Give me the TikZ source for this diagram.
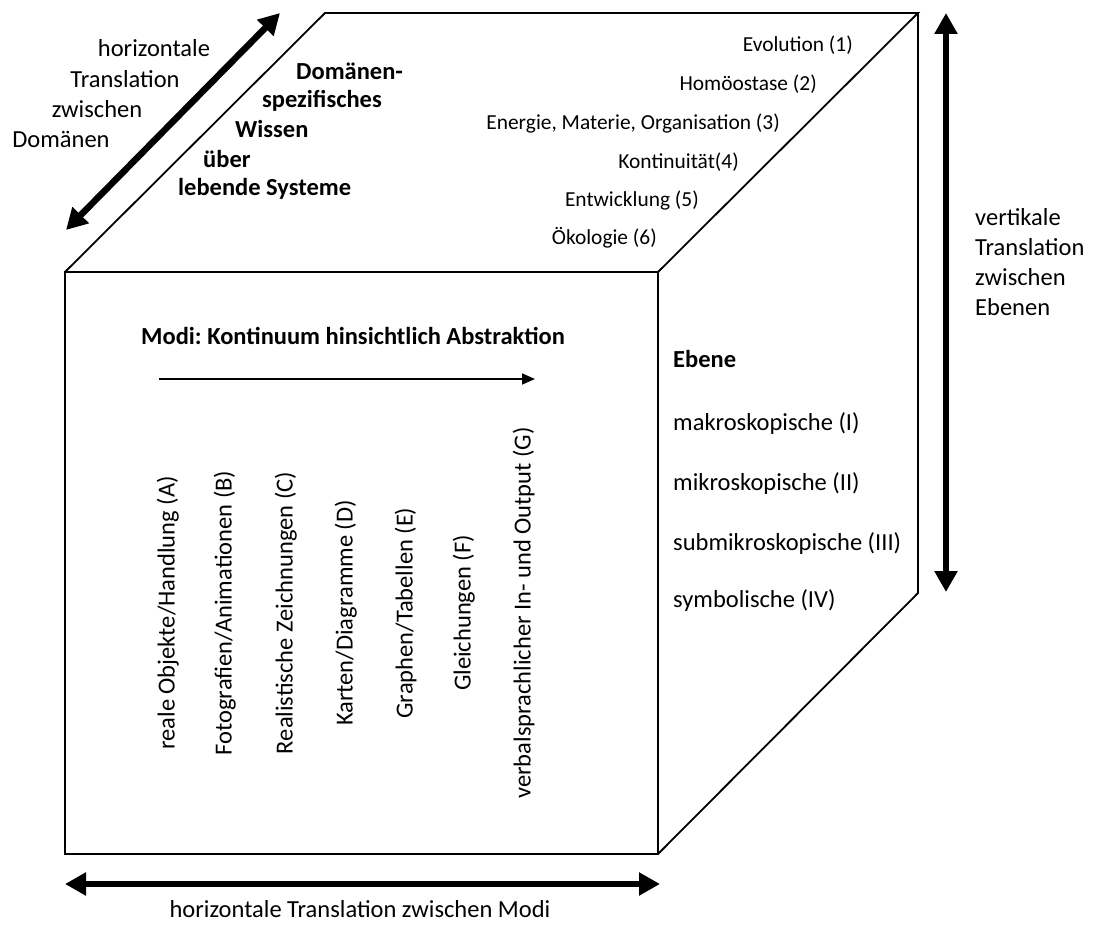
\documentclass[tikz,border=0pt]{standalone}
\usepackage{fontspec}
\setmainfont{Carlito}
\usetikzlibrary{arrows.meta}
\frenchspacing
\tikzset{
  edge/.style={line width=1.8pt, line join=miter},
  bigarrow/.style={line width=6.5pt, {Triangle[length=21pt,width=22pt]}-{Triangle[length=21pt,width=22pt]}},
  thinarrow/.style={line width=1.6pt, -{Triangle[length=13pt,width=11pt]}},
  lbl/.style={inner sep=0pt, font=\fontsize{24.5}{29}\selectfont, text height=0.7em, text depth=0.2em},
  lblb/.style={lbl, font=\fontsize{24.5}{29}\selectfont\bfseries},
  small/.style={inner sep=0pt, font=\fontsize{21.4}{26}\selectfont, text height=0.7em, text depth=0.2em},
  vlbl/.style={lbl, rotate=90}
}
\begin{document}
\begin{tikzpicture}[x=1pt,y=-1pt]
\useasboundingbox (0,0) rectangle (1093,931);

% cube corners
\coordinate (ftl) at (65,272);
\coordinate (ftr) at (658,272);
\coordinate (fbr) at (658,854);
\coordinate (fbl) at (65,854);
\coordinate (btl) at (325,13);
\coordinate (btr) at (918,13);
\coordinate (bbr) at (918,593);

% cube outline
\draw[edge] (ftl) -- (ftr) -- (fbr) -- (fbl) -- cycle;
\draw[edge] (ftl) -- (btl) -- (btr) -- (ftr);
\draw[edge] (btr) -- (bbr) -- (fbr);

% translation arrows
\coordinate (dA) at (280,13);
\coordinate (dB) at (66,230);
\draw[bigarrow] (dB) -- (dA);
\coordinate (vA) at (946,13);
\coordinate (vB) at (946,592);
\draw[bigarrow] (vA) -- (vB);
\coordinate (hA) at (65,884);
\coordinate (hB) at (660,884);
\draw[bigarrow] (hA) -- (hB);

% left label
\node[lbl] (hl1) at (154,54) {horizontale};
\node[lbl] (hl2) at (125,85) {Translation};
\node[lbl] (hl3) at (97,115) {zwischen};
\node[lbl] (hl4) at (61,145) {Domänen};

% top face: domain knowledge
\node[lblb, anchor=west] (d1) at (296,77) {Domänen-};
\node[lblb, anchor=west] (d2) at (262,105) {spezifisches};
\node[lblb, anchor=west] (d3) at (235,135) {Wissen};
\node[lblb, anchor=west] (d4) at (203,165) {über};
\node[lblb, anchor=west] (d5) at (178,193) {lebende Systeme};

\node[small, anchor=east] (t1) at (853,49) {Evolution (1)};
\node[small, anchor=east] (t2) at (817,88) {Homöostase (2)};
\node[small, anchor=east] (t3) at (780,127) {Energie, Materie, Organisation (3)};
\node[small, anchor=east] (t4) at (739,166) {Kontinuität(4)};
\node[small, anchor=east] (t5) at (699,204) {Entwicklung (5)};
\node[small, anchor=east] (t6) at (657,242) {Ökologie (6)};

% front face: modes
\node[lblb] (modi) at (353,342) {Modi: Kontinuum hinsichtlich Abstraktion};
\coordinate (mA) at (159,379);
\coordinate (mB) at (535,379);
\draw[thinarrow] (mA) -- (mB);

\node[vlbl] (mA1) at (172,613) {reale Objekte/Handlung (A)};
\node[vlbl] (mB1) at (229,613) {Fotografien/Animationen (B)};
\node[vlbl] (mC1) at (290,613) {Realistische Zeichnungen (C)};
\node[vlbl] (mD1) at (350,613) {Karten/Diagramme (D)};
\node[vlbl] (mE1) at (410,613) {Graphen/Tabellen (E)};
\node[vlbl] (mF1) at (468,613) {Gleichungen (F)};
\node[vlbl] (mG1) at (528,613) {verbalsprachlicher In- und Output (G)};

% right face: levels
\node[lblb, anchor=west] (eb) at (673,365) {Ebene};
\node[lbl, anchor=west] (e1) at (673,428) {makroskopische (I)};
\node[lbl, anchor=west] (e2) at (673,488) {mikroskopische (II)};
\node[lbl, anchor=west] (e3) at (673,548) {submikroskopische (III)};
\node[lbl, anchor=west] (e4) at (673,605) {symbolische (IV)};

% right label
\node[lbl, anchor=west] (vl1) at (975,223) {vertikale};
\node[lbl, anchor=west] (vl2) at (975,253) {Translation};
\node[lbl, anchor=west] (vl3) at (975,283) {zwischen};
\node[lbl, anchor=west] (vl4) at (975,313) {Ebenen};

% bottom label
\node[lbl] (bl) at (360,915) {horizontale Translation zwischen Modi};
\end{tikzpicture}
\end{document}
